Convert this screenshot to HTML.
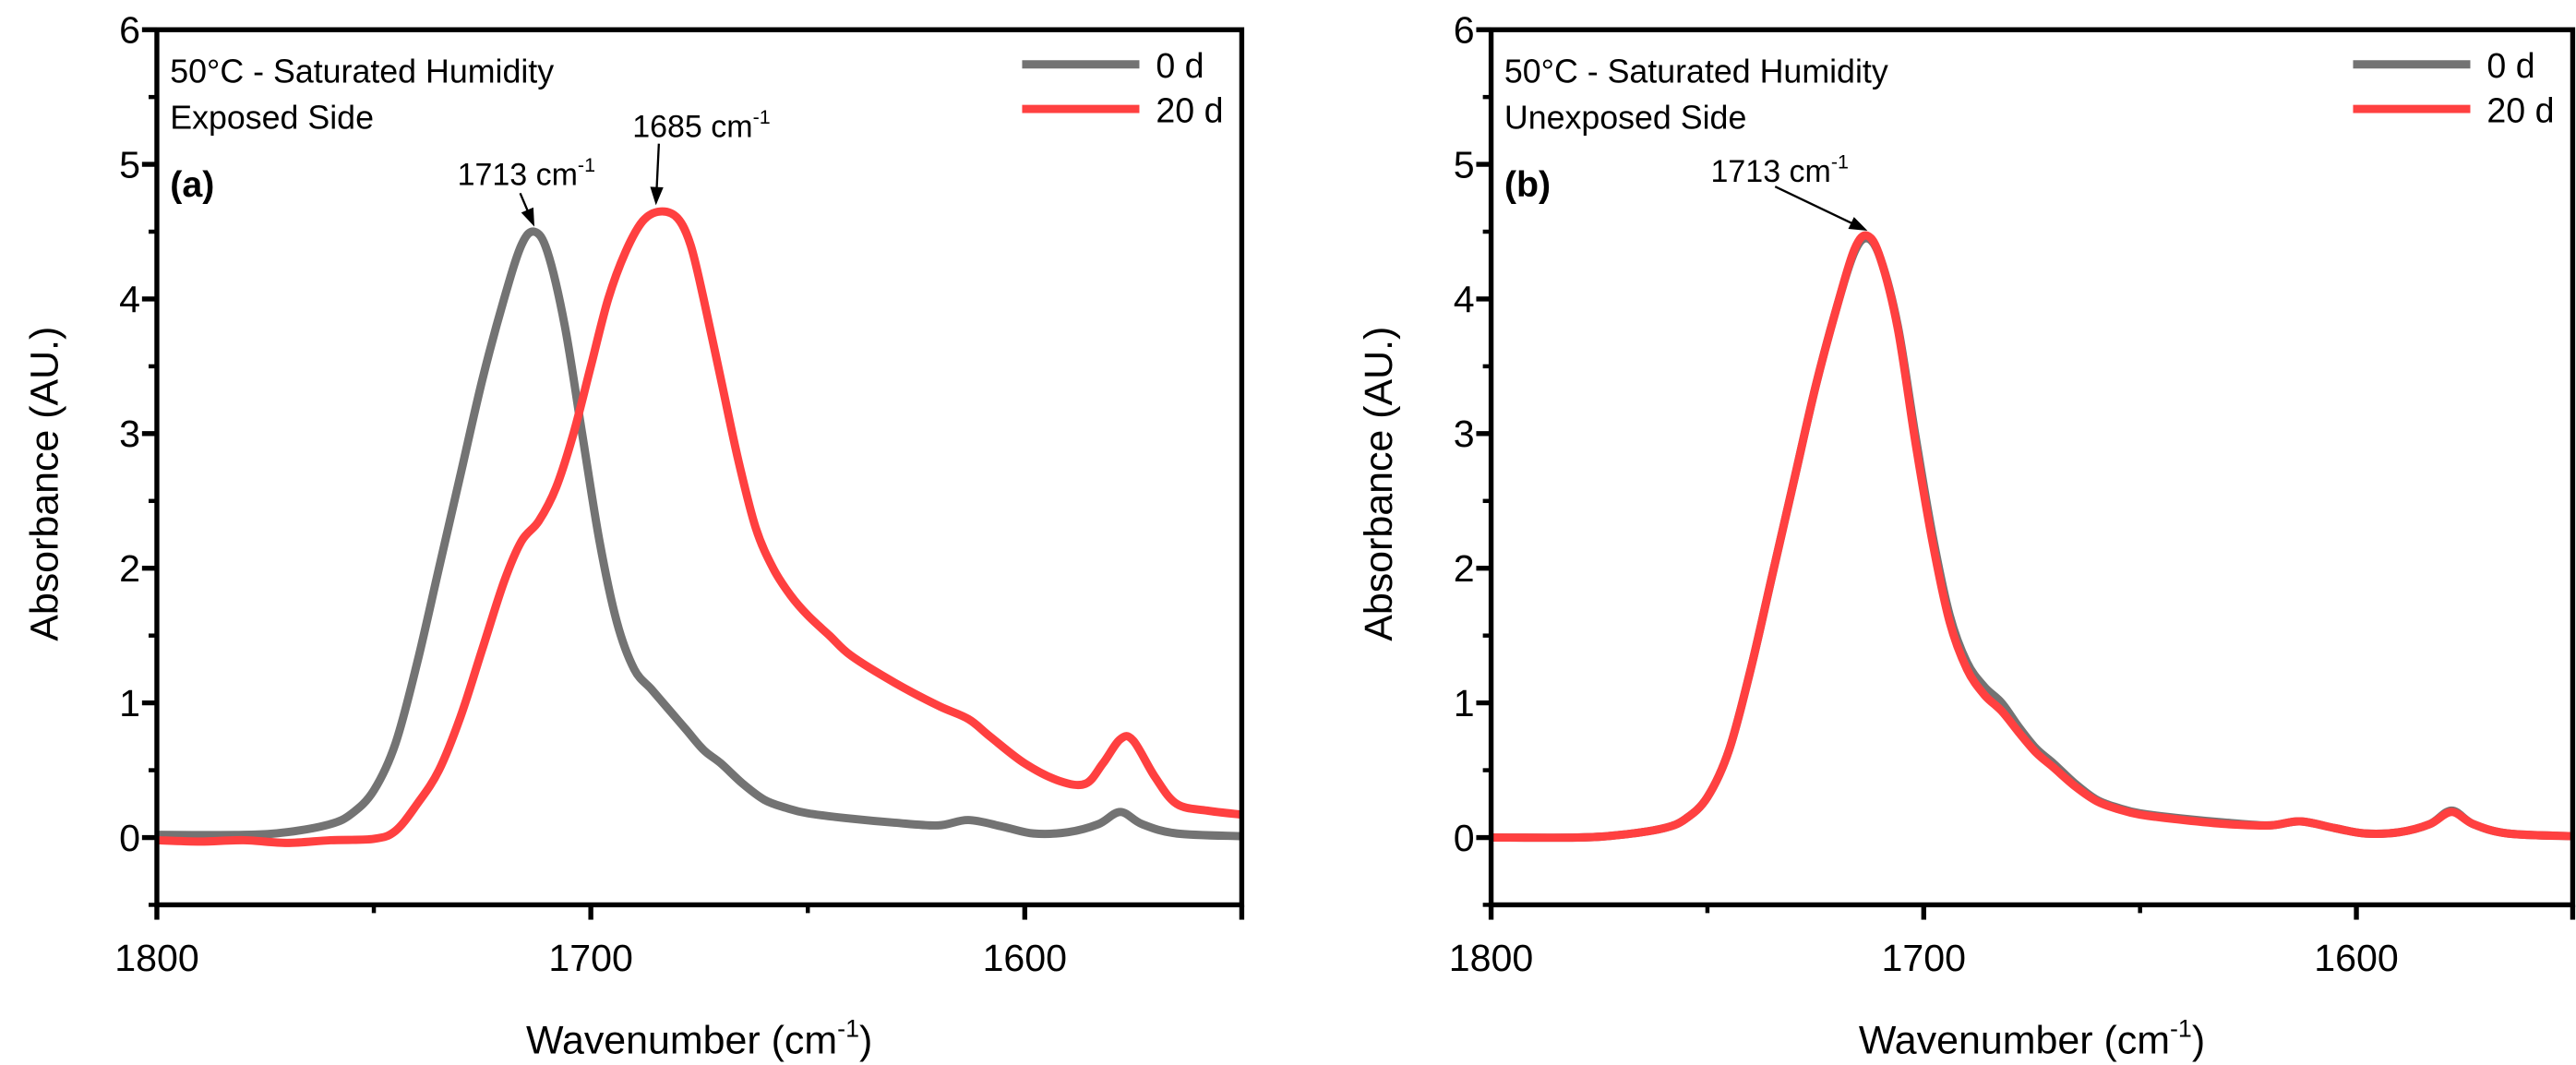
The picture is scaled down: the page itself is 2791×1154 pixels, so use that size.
<!DOCTYPE html>
<html><head><meta charset="utf-8">
<style>
html,body{margin:0;padding:0;background:#fff;}
svg{display:block;font-family:"Liberation Sans",sans-serif;}
</style></head>
<body>
<svg id="chart" width="2791" height="1154" viewBox="0 0 1560 645" preserveAspectRatio="none" xmlns="http://www.w3.org/2000/svg"></svg>
<script>
const xTicks=[1800,1700,1600];
const xMinor=[1750,1650];
const yTicks=[0,1,2,3,4,5,6];
const yMinor=[0.5,1.5,2.5,3.5,4.5,5.5,-0.5];
const aGrayX=[1800,1780,1770,1760,1755,1750,1745,1740,1735,1730,1725,1720,1716,1713,1710,1706,1702,1698,1694,1690,1686,1682,1678,1674,1670,1665,1660,1655,1650,1640,1630,1620,1613,1605,1598,1590,1583,1578,1573,1565,1550];
const aGrayY=[0.02,0.02,0.04,0.1,0.18,0.35,0.7,1.3,2.0,2.7,3.4,4.0,4.4,4.5,4.35,3.8,3.0,2.2,1.6,1.25,1.1,0.95,0.8,0.65,0.55,0.4,0.28,0.22,0.18,0.14,0.11,0.09,0.13,0.08,0.03,0.04,0.1,0.19,0.1,0.03,0.01];
const aRedX=[1800,1790,1780,1770,1760,1750,1745,1740,1735,1730,1725,1720,1716,1712,1708,1704,1700,1696,1692,1688,1684,1680,1677,1674,1670,1666,1662,1658,1654,1650,1645,1640,1630,1620,1613,1608,1600,1592,1586,1582,1578,1575,1570,1565,1558,1550];
const aRedY=[-0.02,-0.03,-0.02,-0.04,-0.02,-0.01,0.05,0.25,0.5,0.9,1.4,1.9,2.2,2.35,2.6,3.0,3.5,4.0,4.35,4.58,4.65,4.6,4.4,4.0,3.4,2.8,2.3,2.0,1.8,1.65,1.5,1.35,1.15,0.98,0.88,0.75,0.55,0.42,0.4,0.55,0.73,0.72,0.45,0.25,0.2,0.17];
const bX=[1800,1780,1770,1760,1755,1750,1745,1740,1735,1730,1725,1720,1716,1713,1710,1706,1702,1698,1694,1690,1686,1682,1678,1674,1670,1665,1660,1655,1650,1640,1630,1620,1613,1605,1598,1590,1583,1578,1573,1565,1550];
const bGrayY=[0,0,0.02,0.07,0.14,0.3,0.65,1.25,1.95,2.65,3.35,3.95,4.35,4.45,4.3,3.8,3.0,2.25,1.65,1.3,1.12,1.0,0.82,0.66,0.55,0.4,0.28,0.22,0.18,0.14,0.11,0.09,0.12,0.07,0.03,0.04,0.1,0.2,0.1,0.03,0.01];
const bRedY=[0,0,0.02,0.07,0.14,0.3,0.65,1.25,1.95,2.65,3.35,3.95,4.37,4.47,4.3,3.78,2.95,2.2,1.6,1.25,1.06,0.94,0.78,0.63,0.52,0.38,0.27,0.21,0.17,0.13,0.1,0.09,0.12,0.07,0.03,0.04,0.1,0.19,0.1,0.03,0.01];

const svg=document.getElementById('chart');
const NS='http://www.w3.org/2000/svg';
function mk(tag,attrs,parent,text){const e=document.createElementNS(NS,tag);for(const k in attrs)e.setAttribute(k,attrs[k]);if(text!==undefined)e.textContent=text;(parent||svg).appendChild(e);return e;}
function smooth(pts){
  let d='M'+pts[0][0].toFixed(2)+' '+pts[0][1].toFixed(2);
  for(let i=0;i<pts.length-1;i++){
    const p0=pts[Math.max(0,i-1)],p1=pts[i],p2=pts[i+1],p3=pts[Math.min(pts.length-1,i+2)];
    const c1=[p1[0]+(p2[0]-p0[0])/6,p1[1]+(p2[1]-p0[1])/6];
    const c2=[p2[0]-(p3[0]-p1[0])/6,p2[1]-(p3[1]-p1[1])/6];
    d+=`C${c1[0].toFixed(2)} ${c1[1].toFixed(2)} ${c2[0].toFixed(2)} ${c2[1].toFixed(2)} ${p2[0].toFixed(2)} ${p2[1].toFixed(2)}`;
  }
  return d;
}

function panel(L,R,id,series,notes){
  const T=18,B=548;
  const xs=v=>L+(1800-v)*(R-L)/250;
  const ys=v=>T+(6-v)*(B-T)/6.5;
  const g=mk('g',{});
  
  
  series.forEach(s=>{
    const pts=s.x.map((v,i)=>[xs(v),ys(s.y[i])]);
    const p=mk('path',{d:smooth(pts),fill:'none',stroke:s.c,'stroke-width':5,'stroke-linejoin':'round'},g);
    
    
  });
  const fr=mk('rect',{x:L,y:T,width:R-L,height:B-T,fill:'none',stroke:'#000','stroke-width':3},g);
  
  
  yTicks.forEach(v=>{
    mk('line',{x1:L-9,x2:L,y1:ys(v),y2:ys(v),stroke:'#000','stroke-width':3},g);
    const t=mk('text',{x:L-10,y:ys(v)+8,'text-anchor':'end','font-size':23},g,String(v));
    
    
  });
  yMinor.forEach(v=>mk('line',{x1:L-5,x2:L,y1:ys(v),y2:ys(v),stroke:'#000','stroke-width':2.5},g));
  xTicks.forEach(v=>{
    mk('line',{x1:xs(v),x2:xs(v),y1:B,y2:B+9,stroke:'#000','stroke-width':3},g);
    const t=mk('text',{x:xs(v),y:B+40,'text-anchor':'middle','font-size':23},g,String(v));
    
    
  });
  xMinor.forEach(v=>mk('line',{x1:xs(v),x2:xs(v),y1:B,y2:B+5,stroke:'#000','stroke-width':2.5},g));
  mk('line',{x1:R,x2:R,y1:B,y2:B+9,stroke:'#000','stroke-width':3},g);
  const xt=mk('text',{x:(L+R)/2,y:638,'text-anchor':'middle','font-size':24},g);
  
  
  xt.innerHTML='Wavenumber (cm<tspan dy="-10" font-size="15">-1</tspan><tspan dy="10">)</tspan>';
  const yt=mk('text',{x:0,y:0,'text-anchor':'middle','font-size':24,transform:`translate(${L-60},${(T+B)/2+10}) rotate(-90)`},g,'Absorbance (AU.)');
  
  
  series.forEach((s,i)=>{
    const ly=39+i*27;
    const ln=mk('line',{x1:R-133,x2:R-62,y1:ly,y2:ly,stroke:s.c,'stroke-width':5},g);
    
    
    const lt=mk('text',{x:R-52,y:ly+8,'font-size':21},g,s.label);
    
    
  });
  const t1=mk('text',{x:L+8,y:50,'font-size':20},g,'50°C - Saturated Humidity');
  
  
  const t2=mk('text',{x:L+8,y:78,'font-size':20},g,notes.side);
  
  
  const t3=mk('text',{x:L+8,y:119,'font-size':22,'font-weight':'bold'},g,notes.tag);
  
  
  notes.ann.forEach(a=>{
    const at=mk('text',{x:a.tx,y:a.ty,'font-size':19},g);
    at.innerHTML=a.txt+' cm<tspan dy="-8" font-size="12">-1</tspan>';
    
    
    const px=xs(a.px),py=ys(a.py)-3;
    const dx=px-a.sx,dy=py-a.sy,len=Math.hypot(dx,dy),ux=dx/len,uy=dy/len;
    mk('line',{x1:a.sx,y1:a.sy,x2:px-ux*9,y2:py-uy*9,stroke:'#000','stroke-width':1.3},g);
    mk('polygon',{points:`${px},${py} ${px-ux*11-uy*4},${py-uy*11+ux*4} ${px-ux*11+uy*4},${py-uy*11-ux*4}`,fill:'#000'},g);
  });
}
panel(95,752,'a',[
  {x:aGrayX,y:aGrayY,c:'#737373',name:'series-0d',label:'0 d'},
  {x:aRedX,y:aRedY,c:'#ff4040',name:'series-20d',label:'20 d'}],
  {side:'Exposed Side',tag:'(a)',ann:[
    {txt:'1713',tx:277,ty:112,sx:315,sy:117,px:1713,py:4.5},
    {txt:'1685',tx:383,ty:83,sx:399,sy:87,px:1685,py:4.66}]});
panel(903,1558,'b',[
  {x:bX,y:bGrayY,c:'#737373',name:'series-0d',label:'0 d'},
  {x:bX,y:bRedY,c:'#ff4040',name:'series-20d',label:'20 d'}],
  {side:'Unexposed Side',tag:'(b)',ann:[
    {txt:'1713',tx:1036,ty:110,sx:1075,sy:113,px:1713,py:4.47}]});
</script>
</body></html>
